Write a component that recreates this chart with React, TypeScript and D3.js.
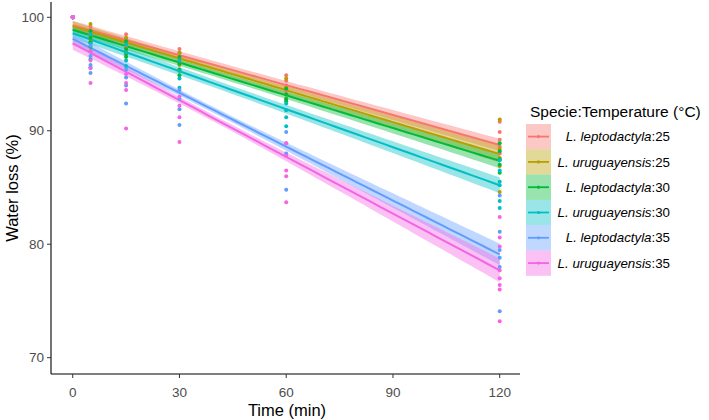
import * as d3 from "d3";

const times = [0, 5, 15, 30, 60, 120];

const series = [
  "L. leptodactyla:25",
  "L. uruguayensis:25",
  "L. leptodactyla:30",
  "L. uruguayensis:30",
  "L. leptodactyla:35",
  "L. uruguayensis:35",
];
const colors = ["#F8766D", "#B79F00", "#00BA38", "#00BFC4", "#619CFF", "#F564E3"];

// fitted line values at t = 0 and t = 120, and CI half-widths there
const fitStart = [99.3, 99.2, 98.9, 98.6, 98.1, 97.7];
const fitEnd = [88.75, 87.95, 87.35, 85.2, 79.1, 77.7];
const ciStart = [0.4, 0.45, 0.4, 0.45, 0.5, 0.55];
const ciEnd = [0.55, 0.75, 0.65, 0.7, 0.95, 1.05];

// observations per series, one list per time
const lep25 = [
  [100, 100, 100, 100],
  [99.2, 98.9, 98.6, 98.3],
  [98.5, 98.1, 97.7, 97.3],
  [97.2, 96.8, 96.4, 96.0],
  [94.9, 94.4, 94.0, 93.5],
  [90.8, 89.9, 89.2, 88.6, 88.0],
];
const uru25 = [
  [100, 100, 100, 100],
  [99.4, 98.8, 98.4, 97.9],
  [98.2, 97.6, 97.1, 96.7],
  [96.9, 96.3, 95.8, 95.3],
  [94.6, 93.8, 93.2, 92.8],
  [91.0, 88.4, 87.6, 86.9, 84.6],
];
const lep30 = [
  [100, 100, 100, 100],
  [98.8, 98.2, 97.8, 97.4],
  [97.9, 97.2, 96.8, 96.5],
  [96.5, 95.9, 95.4, 94.9],
  [93.7, 93.2, 92.8, 92.6],
  [88.9, 88.2, 87.5, 87.0, 86.3],
];
const uru30 = [
  [100, 100, 100, 100],
  [98.5, 97.7, 97.0, 96.3, 95.6],
  [97.6, 96.9, 96.2, 95.7],
  [96.2, 95.3, 94.6, 93.8],
  [92.4, 91.8, 91.2, 90.4],
  [87.4, 86.5, 85.5, 85.2, 83.8, 83.2],
];
const lep35 = [
  [100, 100, 100, 100],
  [97.5, 96.6, 95.8, 95.1],
  [95.4, 94.7, 94.0, 92.4],
  [93.6, 92.8, 91.9, 90.5],
  [89.9, 88.9, 88.0, 84.8],
  [84.3, 81.1, 79.5, 78.8, 78.0, 74.1],
];
const uru35 = [
  [100, 100, 100, 100],
  [97.0, 96.2, 95.5, 94.2],
  [95.0, 94.2, 93.6, 90.2],
  [93.0, 92.2, 91.2, 89.0],
  [88.9, 87.8, 86.5, 86.0, 83.7],
  [82.4, 80.6, 79.8, 77.7, 77.0, 76.4, 76.0, 73.2],
];
const observations = [lep25, uru25, lep30, uru30, lep35, uru35];

const xTicks = [0, 30, 60, 90, 120];
const yTicks = [70, 80, 90, 100];

const width = 709;
const height = 420;
const left = 51;
const right = 520;
const top = 2;
const bottom = 374;

const font = "'Liberation Sans', Arial, sans-serif";

export default function App() {
  const x = d3.scaleLinear().domain([-6.1, 125.7]).range([left, right]);
  const y = d3.scaleLinear().domain([68.56, 101.35]).range([bottom, top]);

  const xm = d3.mean(times) as number;
  const grid = d3.range(0, 121, 2);

  const fits = series.map((_, i) => {
    const slope = (fitEnd[i] - fitStart[i]) / 120;
    const d0 = (0 - xm) ** 2;
    const d1 = (120 - xm) ** 2;
    const b = (ciEnd[i] ** 2 - ciStart[i] ** 2) / (d1 - d0);
    const a = ciStart[i] ** 2 - b * d0;
    return grid.map((t) => {
      const m = fitStart[i] + slope * t;
      const h = Math.sqrt(a + b * (t - xm) ** 2);
      return { t, m, lo: m - h, hi: m + h };
    });
  });

  const area = d3
    .area<{ t: number; lo: number; hi: number }>()
    .x((d) => x(d.t))
    .y0((d) => y(d.lo))
    .y1((d) => y(d.hi));
  const line = d3
    .line<{ t: number; m: number }>()
    .x((d) => x(d.t))
    .y((d) => y(d.m));

  return (
    <svg
      width={width}
      height={height}
      style={{ position: "absolute", left: 0, top: 0, background: "white" }}
      fontFamily={font}
    >
      {fits.map((f, i) => (
        <path key={"r" + i} d={area(f) || undefined} fill={colors[i]} fillOpacity={0.4} />
      ))}
      {fits.map((f, i) => (
        <path key={"l" + i} d={line(f) || undefined} fill="none" stroke={colors[i]} strokeWidth={2} />
      ))}
      {observations.map((obs, i) => (
        <g key={"p" + i} fill={colors[i]}>
          {obs.map((vals, j) =>
            vals.map((v, k) => <circle key={j + "-" + k} cx={x(times[j])} cy={y(v)} r={2} />)
          )}
        </g>
      ))}

      {/* axes */}
      <line x1={left} x2={left} y1={top} y2={bottom} stroke="#000" strokeWidth={1.1} />
      <line x1={left} x2={right} y1={bottom} y2={bottom} stroke="#000" strokeWidth={1.1} />
      {yTicks.map((t) => (
        <g key={"yt" + t}>
          <line x1={left - 4} x2={left} y1={y(t)} y2={y(t)} stroke="#333" />
          <text x={left - 7} y={y(t)} dy="0.35em" textAnchor="end" fontSize={13.5} fill="#4D4D4D">
            {t}
          </text>
        </g>
      ))}
      {xTicks.map((t) => (
        <g key={"xt" + t}>
          <line x1={x(t)} x2={x(t)} y1={bottom} y2={bottom + 4} stroke="#333" />
          <text x={x(t)} y={bottom + 18} dy="0.35em" textAnchor="middle" fontSize={13.5} fill="#4D4D4D">
            {t}
          </text>
        </g>
      ))}
      <text x={287} y={410} dy="0.35em" textAnchor="middle" fontSize={16.5}>
        Time (min)
      </text>
      <text
        transform={`translate(12,${(top + bottom) / 2}) rotate(-90)`}
        dy="0.35em"
        textAnchor="middle"
        fontSize={16.5}
      >
        Water loss (%)
      </text>

      {/* legend */}
      <text x={530} y={111.5} dy="0.35em" fontSize={15.5}>
        Specie:Temperature (°C)
      </text>
      {series.map((s, i) => {
        const ky = 124 + i * 25.3;
        const [sp, temp] = s.split(":");
        return (
          <g key={"lg" + i}>
            <rect x={526} y={ky} width={25} height={25.3} fill={colors[i]} fillOpacity={0.4} />
            <line x1={528} x2={549} y1={ky + 12.6} y2={ky + 12.6} stroke={colors[i]} strokeWidth={1.8} />
            <circle cx={538.5} cy={ky + 12.6} r={1.6} fill={colors[i]} />
            <text x={670} y={ky + 12.6} dy="0.35em" textAnchor="end" fontSize={13.3}>
              <tspan fontStyle="italic">{sp}</tspan>
              <tspan>:{temp}</tspan>
            </text>
          </g>
        );
      })}
    </svg>
  );
}
